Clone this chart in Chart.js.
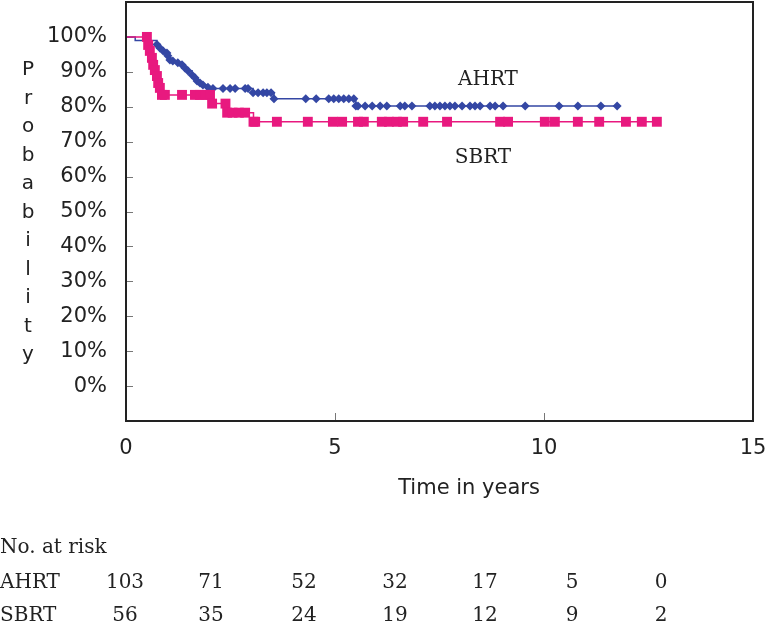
<!DOCTYPE html>
<html>
<head>
<meta charset="utf-8">
<script src="https://cdn.jsdelivr.net/npm/chart.js@4.4.0/dist/chart.umd.min.js"></script>
<style>
  html, body { margin: 0; padding: 0; background: #fff; }
  #wrap { position: relative; width: 767px; height: 626px; overflow: hidden; }
  #chart { position: absolute; left: 0; top: 0; }
  .risk { position: absolute; font-family: "DejaVu Serif", serif; font-size: 20px; color: #222;
          white-space: nowrap; line-height: 1; transform: translate(-50%, -50%); }
  .risk.lbl { transform: translate(0, -50%); }
</style>
</head>
<body>
<div id="wrap">
  <canvas id="chart" width="767" height="626"></canvas>
</div>
<script>
// Kaplan-Meier points (years, % surviving)
const ahrtTime = [0, 0.22, 0.74, 0.81, 0.89, 0.98, 1.00, 1.05, 1.12, 1.24, 1.34, 1.41, 1.48, 1.58, 1.65, 1.70,
  1.77, 1.84, 1.96, 2.08, 2.32, 2.49, 2.61, 2.85, 2.92, 3.04, 3.16, 3.28, 3.37, 3.47, 3.54, 4.30, 4.55, 4.85,
  4.97, 5.09, 5.21, 5.33, 5.45, 5.50, 5.55, 5.72, 5.89, 6.08, 6.24, 6.56, 6.67, 6.84, 7.27, 7.39, 7.51, 7.63,
  7.75, 7.87, 8.04, 8.23, 8.35, 8.47, 8.71, 8.83, 9.02, 9.55, 10.36, 10.81, 11.36, 11.75];
const ahrtSurv = [100, 99, 97.8, 96.8, 96.0, 95.4, 94.6, 93.4, 93.1, 92.6, 92.0, 91.1, 90.3, 89.1, 88.3, 87.4,
  86.8, 86.2, 85.6, 85.2, 85.2, 85.2, 85.2, 85.2, 85.2, 84.0, 84.0, 84.0, 84.0, 84.0, 82.3, 82.3, 82.3, 82.3,
  82.3, 82.3, 82.3, 82.3, 82.3, 80.2, 80.2, 80.2, 80.2, 80.2, 80.2, 80.2, 80.2, 80.2, 80.2, 80.2, 80.2, 80.2,
  80.2, 80.2, 80.2, 80.2, 80.2, 80.2, 80.2, 80.2, 80.2, 80.2, 80.2, 80.2, 80.2, 80.2];

const sbrtTime = [0, 0.50, 0.53, 0.57, 0.62, 0.65, 0.69, 0.74, 0.77, 0.81, 0.86, 0.93, 1.34, 1.65, 1.77, 1.89,
  2.01, 2.06, 2.38, 2.42, 2.55, 2.70, 2.85, 3.05, 3.09, 3.61, 4.35, 4.95, 5.17, 5.55, 5.69, 6.12, 6.29, 6.48,
  6.63, 7.11, 7.68, 8.95, 9.14, 10.02, 10.26, 10.81, 11.32, 11.96, 12.34, 12.70];
const sbrtSurv = [100, 100, 97.7, 96.0, 94.0, 92.0, 90.5, 88.8, 86.8, 85.4, 83.4, 83.4, 83.4, 83.4, 83.4, 83.4,
  83.4, 80.9, 80.9, 78.3, 78.3, 78.3, 78.3, 75.7, 75.7, 75.7, 75.7, 75.7, 75.7, 75.7, 75.7, 75.7, 75.7, 75.7,
  75.7, 75.7, 75.7, 75.7, 75.7, 75.7, 75.7, 75.7, 75.7, 75.7, 75.7, 75.7];

// leading points drawn without a marker
const ahrtNoMark = 2;
const sbrtNoMark = 1;

const yTicks = [0, 10, 20, 30, 40, 50, 60, 70, 80, 90, 100];
const xTicks = [0, 5, 10, 15];

const riskRows = ["AHRT", "SBRT"];
const ahrtAtRisk = [103, 71, 52, 32, 17, 5, 0];
const sbrtAtRisk = [56, 35, 24, 19, 12, 9, 2];

// colours / layout
const blue = "#3447a4";
const pink = "#e8197f";
const ink = "#222";
const riskColX = [125, 211, 304, 395, 485, 572, 661];
const riskRowY = [581, 614];

// frame, inward ticks and loose texts
const extrasPlugin = {
  id: "extras",
  beforeDatasetsDraw(chart) {
    const { ctx, chartArea: a, scales: { x, y } } = chart;
    ctx.save();
    ctx.strokeStyle = "#777";
    ctx.lineWidth = 1;
    yTicks.forEach(v => {
      const py = Math.round(y.getPixelForValue(v)) + 0.5;
      ctx.beginPath(); ctx.moveTo(a.left, py); ctx.lineTo(a.left + 7, py); ctx.stroke();
    });
    xTicks.slice(1, -1).forEach(v => {
      const px = Math.round(x.getPixelForValue(v)) + 0.5;
      ctx.beginPath(); ctx.moveTo(px, a.bottom); ctx.lineTo(px, a.bottom - 8); ctx.stroke();
    });
    ctx.restore();
  },
  afterDraw(chart) {
    const { ctx, chartArea: a, scales: { x, y } } = chart;
    ctx.save();
    ctx.strokeStyle = ink;
    ctx.lineWidth = 2;
    ctx.strokeRect(a.left, a.top, a.right - a.left, a.bottom - a.top);

    ctx.fillStyle = ink;
    ctx.textAlign = "center";
    ctx.textBaseline = "middle";
    ctx.font = '20px "DejaVu Sans"';
    "Probability".split("").forEach((ch, i) => ctx.fillText(ch, 28, 70 + i * 28.5));
    ctx.font = '21px "DejaVu Sans"';
    ctx.fillText("Time in years", 469, 489);

    ctx.font = '20px "DejaVu Serif"';
    ctx.fillText("AHRT", x.getPixelForValue(8.66), y.getPixelForValue(87.7));
    ctx.fillText("SBRT", x.getPixelForValue(8.54), y.getPixelForValue(65.3));
    ctx.restore();
  }
};

const tickFont = { family: "DejaVu Sans", size: 21 };
const noEdgePadding = s => { s.paddingTop = 0; s.paddingBottom = 0; s.paddingLeft = 0; s.paddingRight = 0; };

new Chart(document.getElementById("chart"), {
  type: "line",
  data: {
    datasets: [
      {
        label: "SBRT",
        data: sbrtTime.map((t, i) => ({ x: t, y: sbrtSurv[i] })),
        stepped: true,
        borderColor: pink,
        backgroundColor: pink,
        borderWidth: 1.5,
        pointStyle: "rect",
        pointRadius: c => (c.dataIndex < sbrtNoMark ? 0 : 7),
        pointBorderWidth: 0,
        fill: false,
        order: 0
      },
      {
        label: "AHRT",
        data: ahrtTime.map((t, i) => ({ x: t, y: ahrtSurv[i] })),
        stepped: true,
        borderColor: blue,
        backgroundColor: blue,
        borderWidth: 1.5,
        pointStyle: "rectRot",
        pointRadius: c => (c.dataIndex < ahrtNoMark ? 0 : 4.5),
        pointBorderWidth: 0,
        fill: false,
        order: 1
      }
    ]
  },
  options: {
    responsive: false,
    animation: false,
    layout: { autoPadding: false, padding: { left: 0, top: 2, right: 14, bottom: 0 } },
    plugins: { legend: { display: false }, tooltip: { enabled: false } },
    scales: {
      x: {
        type: "linear",
        min: 0,
        max: 15,
        afterBuildTicks: s => { s.ticks = xTicks.map(v => ({ value: v })); },
        afterFit: s => { s.height = 205; noEdgePadding(s); },
        grid: { display: false, drawTicks: false },
        border: { display: false },
        ticks: { padding: 15, font: tickFont, color: ink, maxRotation: 0, autoSkip: false }
      },
      y: {
        type: "linear",
        min: -10,
        max: 110,
        afterBuildTicks: s => { s.ticks = yTicks.map(v => ({ value: v })); },
        afterFit: s => { s.width = 126; noEdgePadding(s); },
        grid: { display: false, drawTicks: false },
        border: { display: false },
        ticks: { padding: 19, font: tickFont, color: ink, callback: v => v + "%" }
      }
    }
  },
  plugins: [extrasPlugin]
});

// number at risk table
const wrap = document.getElementById("wrap");
function addText(txt, left, top, cls) {
  const d = document.createElement("div");
  d.className = "risk" + (cls ? " " + cls : "");
  d.style.left = left + "px";
  d.style.top = top + "px";
  d.textContent = txt;
  wrap.appendChild(d);
}
addText("No. at risk", 0, 546, "lbl");
[ahrtAtRisk, sbrtAtRisk].forEach((row, r) => {
  addText(riskRows[r], 0, riskRowY[r], "lbl");
  row.forEach((n, i) => addText(String(n), riskColX[i], riskRowY[r]));
});
</script>
</body>
</html>
